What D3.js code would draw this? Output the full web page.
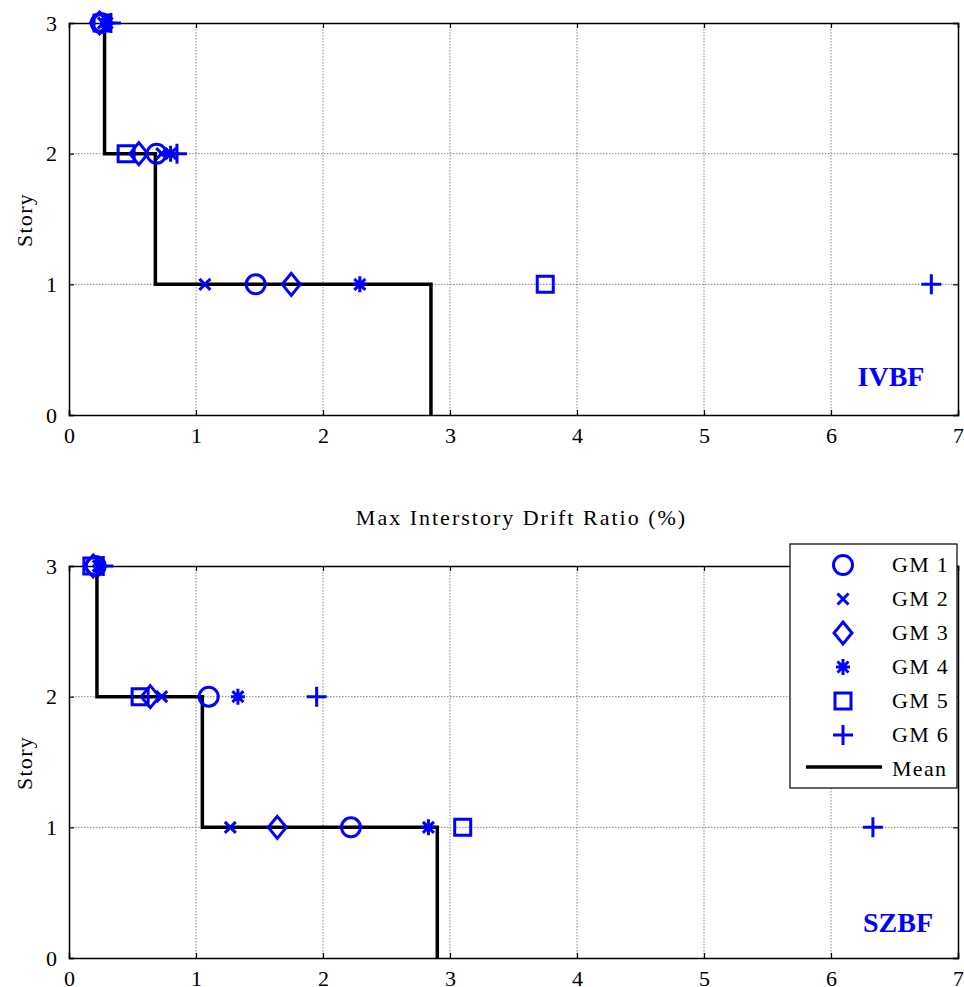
<!DOCTYPE html>
<html>
<head>
<meta charset="utf-8">
<script src="https://cdn.jsdelivr.net/npm/d3@7"></script>
<style>
html,body{margin:0;padding:0;background:#fff;}
svg text{font-family:"Liberation Serif","Times New Roman",serif;}
</style>
</head>
<body>
<svg id="chart" width="964" height="987"></svg>
<script>
// ---- Data ----
const stories = [1, 2, 3];
const gmNames = ["GM 1", "GM 2", "GM 3", "GM 4", "GM 5", "GM 6"];
const gmSymbols = ["circle", "x", "diamond", "asterisk", "square", "plus"];
const xTicks = [0, 1, 2, 3, 4, 5, 6, 7];
const yTicks = [0, 1, 2, 3];
// drift values per GM at stories 1,2,3 (IVBF)
const ivbfGM1 = [1.47, 0.69, 0.25];
const ivbfGM2 = [1.07, 0.73, 0.27];
const ivbfGM3 = [1.75, 0.55, 0.24];
const ivbfGM4 = [2.29, 0.80, 0.30];
const ivbfGM5 = [3.75, 0.45, 0.26];
const ivbfGM6 = [6.79, 0.85, 0.33];
const ivbfMean = [2.85, 0.68, 0.28];
// SZBF
const szbfGM1 = [2.22, 1.10, 0.21];
const szbfGM2 = [1.27, 0.73, 0.23];
const szbfGM3 = [1.64, 0.64, 0.19];
const szbfGM4 = [2.83, 1.33, 0.24];
const szbfGM5 = [3.10, 0.56, 0.18];
const szbfGM6 = [6.33, 1.95, 0.27];
const szbfMean = [2.90, 1.05, 0.22];

const panels = [
  {name: "IVBF", gms: [ivbfGM1, ivbfGM2, ivbfGM3, ivbfGM4, ivbfGM5, ivbfGM6], mean: ivbfMean,
   top: 23, bottom: 415, xlabel: true, legend: false, labelPos: [891, 386]},
  {name: "SZBF", gms: [szbfGM1, szbfGM2, szbfGM3, szbfGM4, szbfGM5, szbfGM6], mean: szbfMean,
   top: 566, bottom: 958, xlabel: false, legend: true, labelPos: [898, 932]}
];

const svg = d3.select("#chart");
const left = 69, right = 958;
const blue = "#0000ff";

function symbolPath(type) {
  switch (type) {
    case "circle": return d3.symbol(d3.symbolCircle, Math.PI * 9.5 * 9.5)();
    case "square": return `M-8,-8H8V8H-8Z`;
    case "diamond": return `M0,-11L9,0L0,11L-9,0Z`;
    case "x": return `M-5.5,-5.5L5.5,5.5M-5.5,5.5L5.5,-5.5`;
    case "plus": return `M-10,0H10M0,-10V10`;
    case "asterisk": return `M-7,0H7M0,-8V8M-5.5,-5.5L5.5,5.5M-5.5,5.5L5.5,-5.5`;
  }
}
function drawMarker(g, type, x, y) {
  g.append("path")
    .attr("d", symbolPath(type))
    .attr("transform", `translate(${x},${y})`)
    .attr("fill", "none")
    .attr("stroke", blue)
    .attr("stroke-width", 3);
}

panels.forEach(p => {
  const x = d3.scaleLinear().domain([0, 7]).range([left, right]);
  const y = d3.scaleLinear().domain([0, 3]).range([p.bottom, p.top]);
  const g = svg.append("g");

  // grid
  g.selectAll(".vg").data(xTicks.slice(1, -1)).join("line")
    .attr("x1", d => x(d)).attr("x2", d => x(d))
    .attr("y1", p.top).attr("y2", p.bottom)
    .attr("stroke", "#666").attr("stroke-width", 0.8).attr("stroke-dasharray", "1.5,1.5");
  g.selectAll(".hg").data(yTicks.slice(1, -1)).join("line")
    .attr("x1", left).attr("x2", right)
    .attr("y1", d => y(d)).attr("y2", d => y(d))
    .attr("stroke", "#666").attr("stroke-width", 0.8).attr("stroke-dasharray", "1.5,1.5");

  // axes with inward ticks
  const axB = d3.axisBottom(x).tickValues(xTicks).tickSize(-5).tickPadding(12).tickFormat(d3.format("d"));
  const axT = d3.axisTop(x).tickValues(xTicks).tickSize(-5).tickFormat("");
  const axL = d3.axisLeft(y).tickValues(yTicks).tickSize(-5).tickPadding(12).tickFormat(d3.format("d"));
  const axR = d3.axisRight(y).tickValues(yTicks).tickSize(-5).tickFormat("");
  const gb = g.append("g").attr("transform", `translate(0,${p.bottom})`).call(axB);
  const gt = g.append("g").attr("transform", `translate(0,${p.top})`).call(axT);
  const gl = g.append("g").attr("transform", `translate(${left},0)`).call(axL);
  const gr = g.append("g").attr("transform", `translate(${right},0)`).call(axR);
  [gb, gt, gl, gr].forEach(a => {
    a.select(".domain").attr("stroke", "#000").attr("stroke-width", 1.5);
    a.selectAll(".tick line").attr("stroke", "#000").attr("stroke-width", 1.2);
    a.selectAll("text").attr("font-size", 22).attr("fill", "#000")
      .style("font-family", '"Liberation Serif", serif');
  });

  // y label
  g.append("text").attr("transform", `translate(32,${(p.top + p.bottom) / 2 + 1}) rotate(-90)`)
    .attr("text-anchor", "middle").attr("font-size", 22).attr("letter-spacing", 1.3).text("Story");

  if (p.xlabel) {
    g.append("text").attr("x", (left + right) / 2 + 8).attr("y", p.bottom + 110)
      .attr("text-anchor", "middle").attr("font-size", 22).attr("letter-spacing", 2).text("Max Interstory Drift Ratio (%)");
  }

  // mean stairs line
  const m = p.mean;
  const pts = [[m[2], 3], [m[2], 2], [m[1], 2], [m[1], 1], [m[0], 1], [m[0], 0]];
  g.append("path").datum(pts)
    .attr("d", d3.line().x(d => x(d[0])).y(d => y(d[1])))
    .attr("fill", "none").attr("stroke", "#000").attr("stroke-width", 3.5);

  // markers
  p.gms.forEach((vals, i) => {
    vals.forEach((v, j) => drawMarker(g, gmSymbols[i], x(v), y(stories[j])));
  });

  // panel name
  g.append("text").attr("x", p.labelPos[0]).attr("y", p.labelPos[1])
    .attr("text-anchor", "middle").attr("font-size", 28).attr("font-weight", "bold")
    .attr("fill", blue).text(p.name);

  if (p.legend) {
    const lx = 790, ly = 544, lw = 167, lh = 244;
    const lg = g.append("g");
    lg.append("rect").attr("x", lx).attr("y", ly).attr("width", lw).attr("height", lh)
      .attr("fill", "#fff").attr("stroke", "#000").attr("stroke-width", 1.2);
    const rows = gmNames.concat(["Mean"]);
    rows.forEach((name, i) => {
      const ry = ly + 21 + i * 34;
      if (i < 6) drawMarker(lg, gmSymbols[i], 843, ry);
      else lg.append("line").attr("x1", 806).attr("x2", 882).attr("y1", ry - 2).attr("y2", ry - 2)
        .attr("stroke", "#000").attr("stroke-width", 3.5);
      lg.append("text").attr("x", 892).attr("y", ry + 7).attr("font-size", 22)
        .attr("letter-spacing", 1.3).text(name);
    });
  }
});
</script>
</body>
</html>
